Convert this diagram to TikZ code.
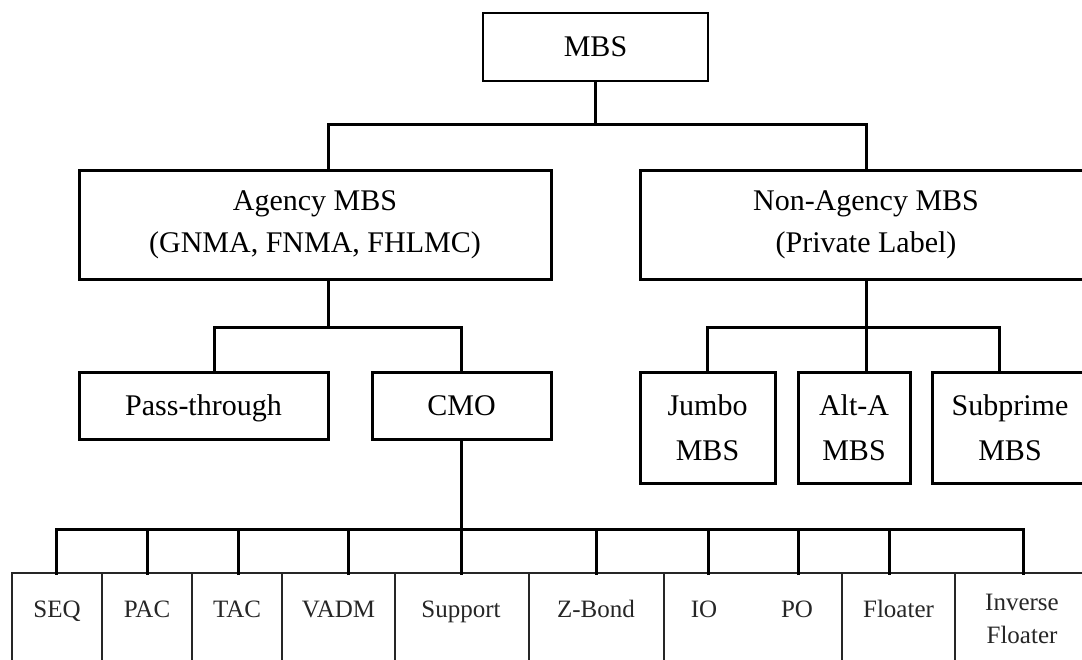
\documentclass[tikz,border=0pt]{standalone}
\usepackage{fontspec}
\setmainfont{Liberation Serif}
\usetikzlibrary{calc}
\begin{document}
\begin{tikzpicture}[x=1pt,y=-1pt,
  box/.style={draw, line width=3pt, rectangle, inner sep=0pt, align=center,
    font=\fontsize{30}{42}\selectfont},
  tallbox/.style={box, font=\fontsize{30}{45}\selectfont},
  link/.style={line width=3pt, line cap=rect},
  cell/.style={draw=black!85, line width=1.6pt, rectangle, inner sep=0pt, minimum height=127pt},
  celltext/.style={anchor=base, inner sep=0pt, text=black!85, align=center,
    font=\fontsize{25}{33}\selectfont}]
\clip (0,0) rectangle (1082,659);

% hierarchy boxes
\node[box, line width=2pt, minimum width=225pt, minimum height=68pt] (mbs) at (595.5,46.5) {MBS};
\node[box, minimum width=472pt, minimum height=109pt] (agency) at (315,224.5) {Agency MBS\\(GNMA, FNMA, FHLMC)};
\node[box, minimum width=452pt, minimum height=109pt] (nonagency) at (866,224.5) {Non-Agency MBS\\(Private Label)};
\node[box, text depth=0pt, minimum width=249pt, minimum height=67pt] (pass) at (203.5,405.5) {Pass-through};
\node[box, minimum width=179pt, minimum height=67pt] (cmo) at (461.5,405.5) {CMO};
\node[tallbox, minimum width=135pt, minimum height=111pt] (jumbo) at (707.5,427.5) {Jumbo\\MBS};
\node[tallbox, minimum width=112pt, minimum height=111pt] (alta) at (854,427.5) {Alt-A\\MBS};
\node[tallbox, minimum width=156pt, minimum height=111pt] (subprime) at (1010,427.5) {Subprime\\MBS};

% bus levels
\coordinate (bus1) at (0,124);
\coordinate (bus2) at (0,327);
\coordinate (bus3) at (0,529);
\coordinate (rowtop) at (0,573);

% MBS -> agency / non-agency
\draw[link] (mbs.south) -- (mbs.south |- bus1);
\draw[line width=3pt] ([xshift=13pt]agency.north) |- (bus1 -| nonagency.north) -- (nonagency.north);

% agency -> pass-through / CMO
\draw[link] ([xshift=13pt]agency.south) -- ([xshift=13pt]agency.south |- bus2);
\draw[line width=3pt] ([xshift=10.5pt]pass.north) |- (bus2 -| cmo.north) -- (cmo.north);

% non-agency -> jumbo / alt-a / subprime
\draw[link] (nonagency.south) -- ([xshift=12pt]alta.north);
\draw[line width=3pt] (jumbo.north) |- ($(subprime.north |- bus2)+(-11,0)$) -- ([xshift=-11pt]subprime.north);

% CMO tranche row
\foreach \i/\l/\r in {1/12/102, 2/102/192, 3/192/282, 4/282/395, 5/395/529,
                      6/529/664, 7/664/842, 8/842/955, 9/955/1089}
  \node[cell, minimum width={(\r-\l)*1pt}] (c\i) at ({(\l+\r)/2},636.5) {};

\node[celltext] (seq) at (57,617) {SEQ};
\node[celltext] (pac) at (147,617) {PAC};
\node[celltext] (tac) at (237,617) {TAC};
\node[celltext] (vadm) at (338.5,617) {VADM};
\node[celltext] (support) at (461,617) {Support};
\node[celltext] (zbond) at (596,617) {Z-Bond};
\node[celltext] (io) at (704,617) {IO};
\node[celltext] (po) at (797,617) {PO};
\node[celltext] (floater) at (898.5,617) {Floater};
\node[celltext] (inv) at (1022,643) {Inverse\\Floater};

\draw[link] (cmo.south) -- (cmo.south |- bus3);
\draw[link] ($(seq.base |- bus3)+(-1,0)$) -- ($(inv.base |- bus3)+(1,0)$);
\foreach \n/\dx in {seq/-1, pac/0, tac/1, vadm/10, support/0, zbond/0,
                    io/4, po/1, floater/-9.5, inv/1}
  \draw[link] ($(\n.base |- bus3)+(\dx,0)$) -- ($(\n.base |- rowtop)+(\dx,0)$);
\end{tikzpicture}
\end{document}
